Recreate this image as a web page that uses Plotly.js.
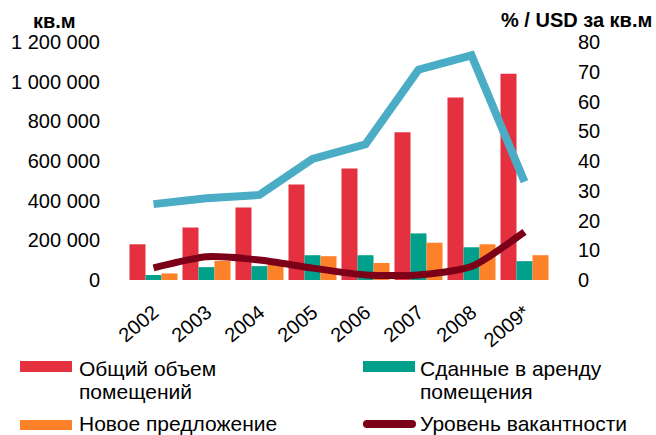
<!DOCTYPE html>
<html>
<head>
<meta charset="utf-8">
<script src="https://cdn.plot.ly/plotly-3.0.1.min.js"></script>
<style>html,body{margin:0;padding:0;background:#fff}#chart{width:656px;height:435px}</style>
</head>
<body>
<div id="chart"></div>
<script>
var years = ['2002','2003','2004','2005','2006','2007','2008','2009*'];
var totalSpace = [180000, 265000, 365000, 482000, 562000, 745000, 920000, 1040000];
var leasedSpace = [25000, 65000, 70000, 125000, 125000, 235000, 165000, 95000];
var newSupply = [33000, 96000, 80000, 120000, 86000, 188000, 180000, 125000];
var rentUSD = [25.5, 27.5, 28.6, 40.7, 45.6, 70.7, 75.5, 33.0];
var vacancy = [4.1, 7.8, 6.7, 4.0, 1.7, 1.7, 4.5, 16.2];

var names = ['Общий объем помещений', 'Сданные в аренду помещения', 'Новое предложение', 'Уровень вакантности', 'Ставка аренды'];
var legendLines = [['Общий объем', 'помещений'], ['Сданные в аренду', 'помещения'], ['Новое предложение'], ['Уровень вакантности']];
var colors = ['#E4303F', '#00A08A', '#FD8128', '#7B0018', '#4BACC6'];

var font = 'Arial, "Liberation Sans", sans-serif';

var traces = [
  {type:'bar', name:names[0], x:years, y:totalSpace, marker:{color:colors[0]}},
  {type:'bar', name:names[1], x:years, y:leasedSpace, marker:{color:colors[1]}},
  {type:'bar', name:names[2], x:years, y:newSupply, marker:{color:colors[2]}},
  {type:'scatter', mode:'lines', name:names[4], x:years, y:rentUSD, yaxis:'y2', line:{color:colors[4], width:8}},
  {type:'scatter', mode:'lines', name:names[3], x:years, y:vacancy, yaxis:'y2', line:{color:colors[3], width:7, shape:'spline', smoothing:0.6}}
];

// paper coordinate helpers for the hand-drawn legend (plot area 127..551 x, 42..280 y)
function px(p){ return (p - 127) / 424; }
function py(q){ return (280 - q) / 238; }

var shapes = [
  {type:'rect', xref:'paper', yref:'paper', x0:px(20), x1:px(72), y0:py(361), y1:py(372), fillcolor:colors[0], line:{width:0}},
  {type:'rect', xref:'paper', yref:'paper', x0:px(363), x1:px(415), y0:py(361), y1:py(372), fillcolor:colors[1], line:{width:0}},
  {type:'rect', xref:'paper', yref:'paper', x0:px(20), x1:px(72), y0:py(420), y1:py(430), fillcolor:colors[2], line:{width:0}},
  {type:'line', xref:'paper', yref:'paper', x0:px(367), x1:px(412), y0:py(424), y1:py(424), line:{color:colors[3], width:8}},
  {type:'circle', xref:'paper', yref:'paper', x0:px(363), x1:px(371), y0:py(428), y1:py(420), fillcolor:colors[3], line:{width:0}},
  {type:'circle', xref:'paper', yref:'paper', x0:px(408), x1:px(416), y0:py(428), y1:py(420), fillcolor:colors[3], line:{width:0}}
];

var annotations = [
  {xref:'paper', yref:'paper', x:px(54), y:py(21), text:'<b>кв.м</b>', showarrow:false, xanchor:'center', yanchor:'middle', font:{family:font, size:20, color:'#000'}},
  {xref:'paper', yref:'paper', x:px(654), y:py(20), text:'<b>% / USD за кв.м</b>', showarrow:false, xanchor:'right', yanchor:'middle', font:{family:font, size:20, color:'#000'}}
];
var legX = [77, 418, 77, 418];
var legY = [368, 368, 423, 423];
legendLines.forEach(function(lines, i){
  lines.forEach(function(t, j){
    annotations.push({xref:'paper', yref:'paper', x:px(legX[i]), y:py(legY[i] + j*23), text:t, showarrow:false,
      xanchor:'left', yanchor:'middle', font:{family:font, size:21, color:'#000'}});
  });
});

var layout = {
  width:656, height:435,
  margin:{l:127, r:105, t:42, b:155, pad:0},
  paper_bgcolor:'#fff', plot_bgcolor:'#fff',
  separators:', ',
  showlegend:false,
  barmode:'group', bargap:0.094, bargroupgap:0,
  font:{family:font, size:20, color:'#000'},
  xaxis:{type:'category', showgrid:false, zeroline:false, showline:false,
    ticks:'outside', ticklen:12, tickcolor:'rgba(0,0,0,0)', tickangle:-40,
    tickfont:{family:font, size:20, color:'#000'}},
  yaxis:{range:[0,1200000], dtick:200000, tickformat:',d', showgrid:false, zeroline:false, showline:false,
    ticks:'outside', ticklen:22, tickcolor:'rgba(0,0,0,0)', tickfont:{family:font, size:20, color:'#000'}},
  yaxis2:{range:[0,80], dtick:10, overlaying:'y', side:'right', showgrid:false, zeroline:false, showline:false,
    ticks:'outside', ticklen:22, tickcolor:'rgba(0,0,0,0)', tickfont:{family:font, size:20, color:'#000'}},
  shapes:shapes,
  annotations:annotations
};

Plotly.newPlot('chart', traces, layout, {staticPlot:true, displayModeBar:false});
</script>
</body>
</html>
